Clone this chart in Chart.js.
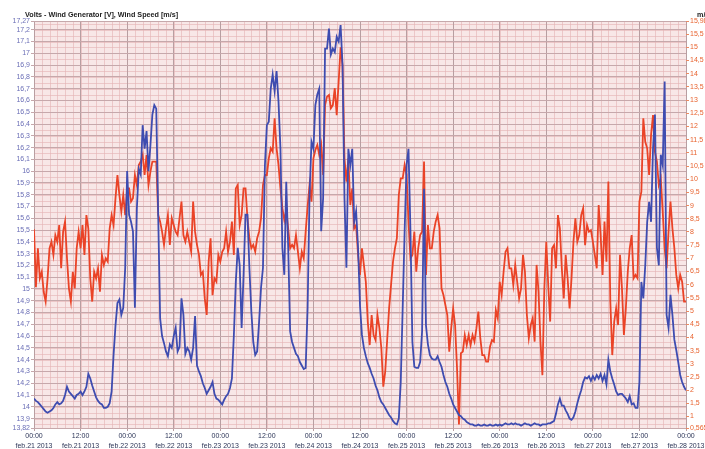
<!DOCTYPE html>
<html>
<head>
<meta charset="utf-8">
<script src="https://cdn.jsdelivr.net/npm/chart.js@4/dist/chart.umd.min.js"></script>
<style>
  html, body { margin: 0; padding: 0; background: #ffffff; }
  #wrap { width: 705px; height: 449px; }
</style>
</head>
<body>
<div id="wrap"><canvas id="chart" width="705" height="449"></canvas></div>
<script>
// Half-hourly samples from feb.21 2013 00:00 (hour 0) to feb.28 2013 00:00 (hour 168)
const sampleStepHours = 0.5;

const volts = [
  14.07, 14.05, 14.04, 14.02, 14.00, 13.98, 13.96, 13.95, 13.96, 13.97, 13.99, 14.02,
  14.04, 14.02, 14.03, 14.05, 14.10, 14.17, 14.13, 14.11, 14.09, 14.07, 14.10, 14.11,
  14.13, 14.10, 14.13, 14.17, 14.28, 14.24, 14.18, 14.13, 14.08, 14.05, 14.03, 14.02,
  13.99, 13.99, 14.00, 14.03, 14.13, 14.44, 14.69, 14.88, 14.91, 14.78, 14.84, 15.18,
  16.00, 15.63, 15.57, 15.49, 14.84, 15.68, 16.02, 15.97, 16.39, 16.19, 16.34, 16.00,
  16.22, 16.48, 16.56, 16.53, 15.63, 14.75, 14.60, 14.54, 14.47, 14.43, 14.53, 14.50,
  14.60, 14.67, 14.47, 14.51, 14.92, 14.78, 14.45, 14.50, 14.47, 14.40, 14.50, 14.77,
  14.35, 14.30, 14.26, 14.20, 14.16, 14.11, 14.14, 14.17, 14.21, 14.11, 14.07, 14.06,
  14.04, 14.02, 14.06, 14.09, 14.11, 14.16, 14.24, 14.61, 15.06, 15.35, 15.20, 14.67,
  15.12, 15.63, 15.63, 15.18, 14.81, 14.55, 14.44, 14.47, 14.72, 15.01, 15.18, 16.05,
  16.39, 16.42, 16.70, 16.82, 16.68, 16.85, 16.59, 16.19, 15.35, 15.12, 15.91, 15.35,
  14.64, 14.55, 14.50, 14.45, 14.43, 14.38, 14.35, 14.32, 14.33, 14.84, 15.80, 16.25,
  16.19, 16.56, 16.65, 16.70, 15.49, 15.77, 17.04, 17.04, 17.21, 16.99, 17.04, 17.01,
  17.14, 17.10, 17.24, 16.90, 15.77, 15.18, 16.19, 16.05, 16.19, 15.57, 15.66, 15.35,
  14.86, 14.61, 14.50, 14.43, 14.37, 14.33, 14.28, 14.24, 14.18, 14.14, 14.08, 14.04,
  14.02, 13.99, 13.96, 13.93, 13.91, 13.88, 13.86, 13.85, 13.90, 14.21, 14.84, 15.49,
  16.05, 16.19, 15.49, 14.55, 14.34, 14.33, 14.33, 14.38, 14.64, 15.85, 14.69, 14.53,
  14.44, 14.41, 14.40, 14.40, 14.43, 14.38, 14.34, 14.27, 14.21, 14.17, 14.11, 14.07,
  14.02, 13.99, 13.96, 13.93, 13.92, 13.90, 13.89, 13.87, 13.86, 13.85, 13.85, 13.84,
  13.84, 13.85, 13.84, 13.84, 13.85, 13.84, 13.84, 13.85, 13.84, 13.84, 13.85, 13.84,
  13.85, 13.84, 13.85, 13.86, 13.85, 13.85, 13.86, 13.85, 13.86, 13.85, 13.85, 13.84,
  13.85, 13.86, 13.85, 13.85, 13.84, 13.85, 13.86, 13.85, 13.85, 13.84, 13.85, 13.85,
  13.85, 13.86, 13.86, 13.87, 13.88, 13.94, 14.02, 14.07, 14.01, 14.01, 13.97, 13.94,
  13.90, 13.89, 13.91, 13.96, 14.03, 14.09, 14.14, 14.21, 14.25, 14.24, 14.26, 14.22,
  14.26, 14.23, 14.27, 14.24, 14.28, 14.22, 14.27, 14.19, 14.40, 14.30, 14.24, 14.19,
  14.13, 14.10, 14.11, 14.11, 14.09, 14.07, 14.04, 14.09, 14.02, 14.03, 13.99, 13.99,
  14.21, 15.06, 14.92, 15.20, 15.57, 15.74, 15.57, 16.19, 16.48, 15.35, 15.20, 16.14,
  16.05, 16.76, 14.78, 14.67, 14.95, 14.78, 14.57, 14.48, 14.38, 14.27, 14.21, 14.17,
  14.14
];

const windSpeed = [
  8.10, 5.90, 7.38, 6.24, 6.49, 5.73, 5.36, 6.24, 7.38, 7.63, 7.13, 7.88,
  7.63, 8.26, 6.62, 8.01, 8.39, 7.00, 5.86, 5.36, 6.49, 5.86, 7.38, 8.01,
  7.38, 8.26, 7.13, 8.64, 8.13, 6.24, 5.36, 6.49, 6.24, 6.62, 5.73, 7.13,
  6.75, 7.00, 6.87, 8.13, 8.64, 8.26, 9.28, 10.16, 9.40, 8.77, 9.40, 8.64,
  9.65, 9.65, 9.15, 9.28, 10.16, 9.78, 10.54, 10.67, 10.92, 10.16, 10.92, 9.78,
  10.29, 10.67, 10.67, 10.67, 8.64, 8.39, 8.01, 7.51, 8.13, 8.64, 7.51, 8.52,
  8.26, 8.01, 7.88, 8.52, 9.15, 7.88, 7.63, 8.01, 7.63, 7.25, 9.15, 8.01,
  7.51, 7.13, 6.37, 6.49, 5.48, 4.85, 6.87, 7.76, 5.60, 6.24, 6.11, 7.13,
  6.87, 7.25, 7.38, 8.01, 7.25, 7.63, 8.39, 7.13, 9.65, 9.78, 8.26, 8.64,
  9.65, 9.65, 8.52, 7.76, 7.38, 7.51, 7.25, 7.76, 8.01, 8.52, 9.78, 10.16,
  10.16, 10.79, 11.17, 11.04, 12.31, 11.17, 10.54, 9.65, 8.90, 8.45, 8.83, 8.13,
  7.38, 7.51, 7.38, 7.88, 7.25, 6.62, 7.25, 7.00, 8.01, 8.96, 9.78, 9.15,
  10.79, 11.11, 11.30, 10.92, 11.30, 10.16, 12.81, 13.13, 13.19, 12.69, 12.81, 13.45,
  12.43, 13.70, 15.00, 14.30, 10.79, 9.91, 10.79, 9.02, 9.65, 8.13, 8.26, 7.13,
  6.37, 7.38, 6.75, 6.11, 4.60, 3.71, 4.85, 4.09, 3.90, 4.85, 4.35, 3.59,
  2.13, 2.70, 3.90, 5.10, 5.99, 6.87, 7.38, 7.76, 9.40, 10.03, 10.03, 10.54,
  10.16, 8.39, 7.00, 7.13, 8.01, 6.49, 7.38, 7.88, 8.01, 10.67, 6.37, 8.26,
  7.38, 7.38, 8.01, 8.39, 8.64, 8.14, 5.86, 5.61, 5.23, 4.85, 3.46, 4.35,
  5.10, 4.47, 2.83, 0.70, 3.40, 3.46, 4.09, 3.71, 4.09, 3.71, 4.09, 3.84,
  4.35, 4.98, 3.97, 3.33, 3.33, 3.08, 3.08, 3.65, 3.90, 3.84, 5.04, 4.73,
  6.11, 5.61, 6.49, 7.25, 7.38, 6.62, 6.62, 5.99, 6.75, 6.11, 5.48, 5.86,
  7.13, 6.49, 4.85, 3.97, 4.47, 4.73, 3.84, 6.75, 5.73, 3.84, 2.57, 5.86,
  7.63, 5.99, 4.60, 7.38, 7.50, 6.62, 8.64, 8.14, 6.62, 5.48, 7.13, 6.24,
  5.10, 6.24, 7.63, 8.52, 7.63, 7.88, 8.64, 8.90, 7.50, 8.26, 8.01, 8.07,
  7.63, 7.13, 6.62, 9.02, 7.88, 6.37, 8.39, 6.87, 9.91, 5.36, 3.33, 4.60,
  5.10, 4.47, 7.13, 5.86, 4.09, 5.10, 6.49, 7.38, 7.88, 6.24, 6.37, 6.24,
  9.15, 9.53, 12.31, 11.42, 11.17, 10.16, 11.68, 12.43, 11.04, 10.67, 9.78, 10.03,
  8.77, 7.38, 6.62, 8.01, 9.15, 8.14, 7.38, 6.37, 5.86, 6.37, 6.11, 5.36,
  5.36
];

// Axis ticks
const voltTicks = [
  13.82, 13.9, 14, 14.1, 14.2, 14.3, 14.4, 14.5, 14.6, 14.7, 14.8, 14.9,
  15, 15.1, 15.2, 15.3, 15.4, 15.5, 15.6, 15.7, 15.8, 15.9, 16, 16.1,
  16.2, 16.3, 16.4, 16.5, 16.6, 16.7, 16.8, 16.9, 17, 17.1, 17.2, 17.27
];
const speedTicks = [
  0.565, 1, 1.5, 2, 2.5, 3, 3.5, 4, 4.5, 5, 5.5, 6, 6.5, 7, 7.5, 8,
  8.5, 9, 9.5, 10, 10.5, 11, 11.5, 12, 12.5, 13, 13.5, 14, 14.5, 15, 15.5, 15.98
];
const tickHours = [0, 12, 24, 36, 48, 60, 72, 84, 96, 108, 120, 132, 144, 156, 168];
const tickTimes = ['00:00', '12:00', '00:00', '12:00', '00:00', '12:00', '00:00', '12:00',
                   '00:00', '12:00', '00:00', '12:00', '00:00', '12:00', '00:00'];
const tickDates = ['feb.21 2013', 'feb.21 2013', 'feb.22 2013', 'feb.22 2013', 'feb.23 2013',
                   'feb.23 2013', 'feb.24 2013', 'feb.24 2013', 'feb.25 2013', 'feb.25 2013',
                   'feb.26 2013', 'feb.26 2013', 'feb.27 2013', 'feb.27 2013', 'feb.28 2013'];

const titleText = 'Volts - Wind Generator [V], Wind Speed [m/s]';
const rightUnit = 'm/s';

const decimalComma = v => String(v).replace('.', ',');
const toPoints = arr => arr.map((v, i) => ({ x: i * sampleStepHours, y: v }));

// Pink plot background with a fine minor grid, plus the header texts
const framePlugin = {
  id: 'frame',
  beforeDraw(chart) {
    const { ctx, chartArea: a, scales } = chart;
    const x = scales.x, y = scales.y;
    ctx.save();
    ctx.fillStyle = '#f8e7e7';
    ctx.fillRect(a.left, a.top, a.right - a.left, a.bottom - a.top);
    ctx.strokeStyle = 'rgba(228,178,180,0.6)';
    ctx.lineWidth = 1;
    ctx.beginPath();
    for (let h = 0; h <= 168; h += 2) {
      const px = Math.round(x.getPixelForValue(h)) + 0.5;
      ctx.moveTo(px, a.top); ctx.lineTo(px, a.bottom);
    }
    for (let k = 0; k < 80; k++) {
      const v = 13.8 + k * 0.05;
      if (v < y.min || v > y.max) continue;
      const py = Math.round(y.getPixelForValue(v)) + 0.5;
      ctx.moveTo(a.left, py); ctx.lineTo(a.right, py);
    }
    ctx.stroke();
    ctx.restore();
  },
  afterDraw(chart) {
    const { ctx } = chart;
    ctx.save();
    ctx.fillStyle = '#222222';
    ctx.font = 'bold 7.2px "Liberation Sans", Arial, sans-serif';
    ctx.textBaseline = 'alphabetic';
    ctx.fillText(titleText, 25, 16.5);
    ctx.fillText(rightUnit, 697, 16.5);
    ctx.restore();
  }
};

Chart.defaults.font.family = '"Liberation Sans", Arial, sans-serif';

new Chart(document.getElementById('chart'), {
  type: 'line',
  data: {
    datasets: [
      {
        label: 'Volts - Wind Generator [V]',
        data: toPoints(volts),
        yAxisID: 'y',
        borderColor: '#3e4cb0',
        borderWidth: 1.8,
        pointRadius: 0,
        tension: 0
      },
      {
        label: 'Wind Speed [m/s]',
        data: toPoints(windSpeed),
        yAxisID: 'y1',
        borderColor: '#ea4327',
        borderWidth: 1.8,
        pointRadius: 0,
        tension: 0
      }
    ]
  },
  options: {
    responsive: false,
    animation: false,
    devicePixelRatio: 1,
    layout: { padding: { top: 21.5, left: 0, right: 0, bottom: 0 } },
    plugins: { legend: { display: false }, tooltip: { enabled: false }, title: { display: false } },
    scales: {
      x: {
        type: 'linear',
        min: 0,
        max: 168,
        afterBuildTicks: s => { s.ticks = tickHours.map(v => ({ value: v })); },
        afterFit: s => { s.height = 21; s.paddingLeft = 0; s.paddingRight = 0; },
        border: { display: false },
        grid: { color: '#b89ea1', lineWidth: 1, tickLength: 3 },
        ticks: {
          autoSkip: false, maxRotation: 0, padding: 1, color: '#2d3658',
          font: { size: 7, lineHeight: 1.3 },
          callback: (v, i) => [tickTimes[i], tickDates[i]]
        }
      },
      y: {
        position: 'left',
        min: 13.82,
        max: 17.27,
        afterBuildTicks: s => { s.ticks = voltTicks.map(v => ({ value: v })); },
        afterFit: s => { s.width = 34; s.paddingTop = 0; s.paddingBottom = 0; },
        border: { display: false },
        grid: { color: '#c6a8ab', lineWidth: 1, tickLength: 3 },
        ticks: { autoSkip: false, padding: 1, color: '#6a6eb6', font: { size: 7 }, callback: decimalComma }
      },
      y1: {
        position: 'right',
        min: 0.565,
        max: 15.98,
        afterBuildTicks: s => { s.ticks = speedTicks.map(v => ({ value: v })); },
        afterFit: s => { s.width = 19; s.paddingTop = 0; s.paddingBottom = 0; },
        border: { display: false },
        grid: { drawOnChartArea: false, color: '#ec8a62', tickLength: 3 },
        ticks: { autoSkip: false, padding: 1, color: '#e8622e', font: { size: 7 }, callback: decimalComma }
      }
    }
  },
  plugins: [framePlugin]
});
</script>
</body>
</html>
